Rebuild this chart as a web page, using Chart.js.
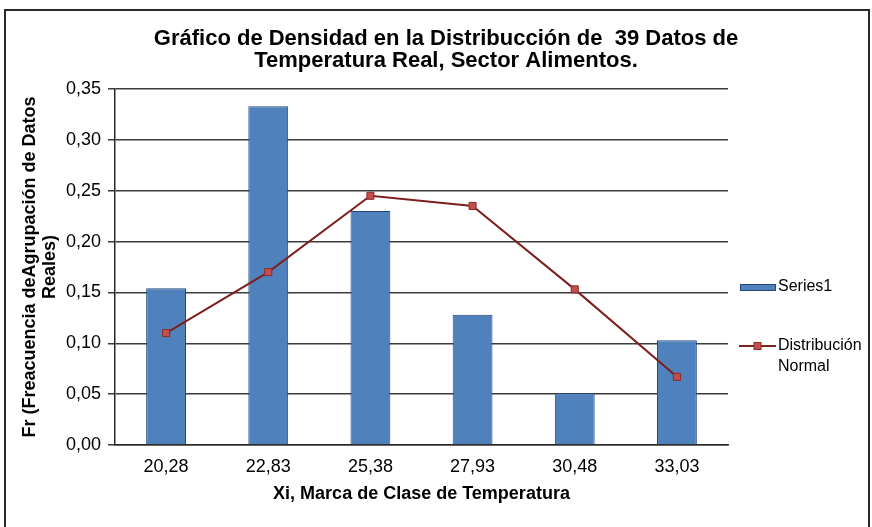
<!DOCTYPE html>
<html>
<head>
<meta charset="utf-8">
<script src="https://cdn.jsdelivr.net/npm/chart.js@4.4.1/dist/chart.umd.min.js"></script>
<style>
  html, body { margin: 0; padding: 0; background: #fff; }
  #frame { position: absolute; left: 4px; top: 9px; width: 862px; height: 540px; border: 2px solid #2a2a2a; }
  #wrap { position: absolute; left: 0; top: 0; width: 872px; height: 527px; }
</style>
</head>
<body>
<div id="frame"></div>
<div id="wrap"><canvas id="myChart" width="872" height="527"></canvas></div>
<script>
// datos
const categories = ["20,28", "22,83", "25,38", "27,93", "30,48", "33,03"];
const frecuencia = [0.154, 0.333, 0.230, 0.128, 0.051, 0.103];
const normal = [0.110, 0.170, 0.245, 0.235, 0.153, 0.067];

const yMin = 0;
const yMax = 0.35;
const yStep = 0.05;

const titleLines = ["Gráfico de Densidad en la Distribucción de  39 Datos de", "Temperatura Real, Sector Alimentos."];
const yTitle = ["Fr (Freacuencia deAgrupación de Datos", "Reales)"];
const xTitle = "Xi, Marca de Clase de Temperatura";

const fontFamily = "'Liberation Sans', Arial, sans-serif";

// leyenda dibujada a mano (texto en dos lineas)
const legendPlugin = {
    id: "sideLegend",
    afterDraw(chart) {
        const ctx = chart.ctx;
        const x0 = chart.chartArea.right + 12;
        ctx.save();
        ctx.font = "16px " + fontFamily;
        ctx.textBaseline = "middle";
        ctx.fillStyle = "#000";

        // Series1
        const bar = chart.data.datasets[1];
        ctx.fillStyle = bar.backgroundColor;
        ctx.fillRect(x0, 284, 35, 6);
        ctx.strokeStyle = bar.borderColor;
        ctx.lineWidth = 1;
        ctx.strokeRect(x0 + 0.5, 284.5, 35, 6);
        ctx.fillStyle = "#000";
        ctx.fillText(bar.label, x0 + 38, 287);

        // Distribucion Normal
        const line = chart.data.datasets[0];
        ctx.strokeStyle = line.borderColor;
        ctx.lineWidth = 2;
        ctx.beginPath();
        ctx.moveTo(x0 - 1, 346);
        ctx.lineTo(x0 + 36, 346);
        ctx.stroke();
        ctx.fillStyle = line.pointBackgroundColor;
        ctx.strokeStyle = line.pointBorderColor;
        ctx.lineWidth = 1;
        ctx.fillRect(x0 + 14, 342.5, 7, 7);
        ctx.strokeRect(x0 + 14, 342.5, 7, 7);
        ctx.fillStyle = "#000";
        const words = line.label.split(" ");
        words.forEach((w, i) => ctx.fillText(w, x0 + 38, 346 + i * 21));
        ctx.restore();
    }
};

const ctx = document.getElementById("myChart").getContext("2d");

const config = {
    type: "bar",
    data: {
        labels: categories,
        datasets: [{
            type: "line",
            label: "Distribución Normal",
            data: normal,
            order: 0,
            borderColor: "#7e1f1f",
            borderWidth: 2,
            pointStyle: "rect",
            pointRadius: 5,
            pointBackgroundColor: "#c0504d",
            pointBorderColor: "#8c2a28",
            pointBorderWidth: 1,
            tension: 0,
            fill: false,
        }, {
            type: "bar",
            label: "Series1",
            data: frecuencia,
            order: 1,
            backgroundColor: "#4f81bd",
            borderColor: "#23477a",
            borderWidth: 1,
            categoryPercentage: 1,
            barPercentage: 0.39,
        }],
    },
    options: {
        responsive: false,
        animation: false,
        layout: { padding: { left: 20, right: 0, top: 0, bottom: 0 } },
        plugins: {
            legend: { display: false },
            tooltip: { enabled: false },
            title: {
                display: true,
                text: titleLines,
                color: "#000",
                font: { family: fontFamily, size: 22, weight: "bold", lineHeight: 1.0 },
                padding: { top: 28, bottom: 17 },
            },
        },
        scales: {
            x: {
                grid: { display: false },
                border: { display: true, color: "#2a2a2a", width: 1.5 },
                ticks: { color: "#000", font: { family: fontFamily, size: 18 }, padding: 3 },
                title: {
                    display: true,
                    text: xTitle,
                    color: "#000",
                    font: { family: fontFamily, size: 18, weight: "bold" },
                    padding: { top: 0, bottom: 22 },
                },
                afterFit(scale) { scale.height = 82; },
            },
            y: {
                min: yMin,
                max: yMax,
                grid: { color: "#3c3c3c", lineWidth: 1.5, tickLength: 7 },
                border: { display: true, color: "#2a2a2a", width: 1.5 },
                ticks: {
                    stepSize: yStep,
                    color: "#000",
                    padding: 7,
                    font: { family: fontFamily, size: 18 },
                    callback: (v) => v.toFixed(2).replace(".", ","),
                },
                title: {
                    display: true,
                    text: yTitle,
                    color: "#000",
                    font: { family: fontFamily, size: 18, weight: "bold", lineHeight: 1.1 },
                    padding: { top: 0, bottom: 0 },
                },
                afterFit(scale) { scale.width = 95; },
            },
            y2: {
                position: "right",
                display: true,
                grid: { display: false },
                border: { display: false },
                ticks: { display: false },
                afterFit(scale) { scale.width = 144; },
            },
        },
    },
    plugins: [legendPlugin],
};

const myChart = new Chart(ctx, config);
</script>
</body>
</html>
